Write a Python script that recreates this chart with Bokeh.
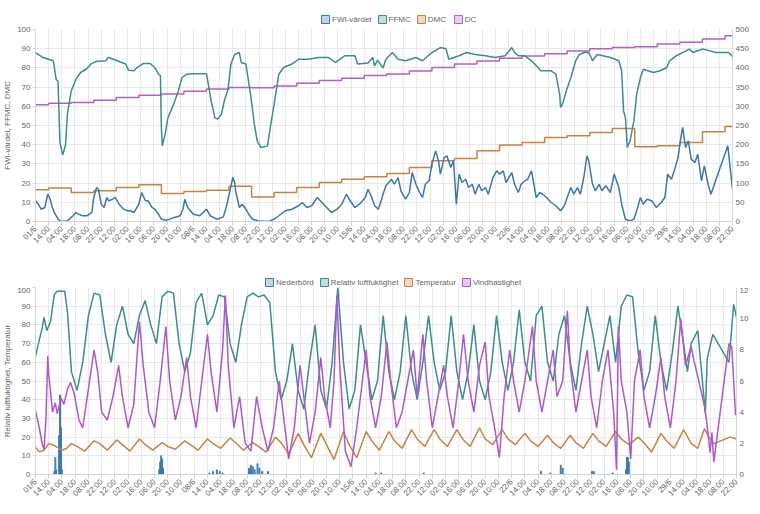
from math import pi
from bokeh.plotting import figure
from bokeh.models import Range1d, LinearAxis, FixedTicker, Legend, LegendItem
from bokeh.layouts import column
from bokeh.embed import file_html
from bokeh.resources import INLINE

# ---------------- data ----------------
tick_labels = ["01/6", "14:00", "04:00", "18:00", "08:00", "22:00", "12:00", "02:00", "16:00", "06:00", "20:00", "10:00",
               "08/6", "14:00", "04:00", "18:00", "08:00", "22:00", "12:00", "02:00", "16:00", "06:00", "20:00", "10:00",
               "15/6", "14:00", "04:00", "18:00", "08:00", "22:00", "12:00", "02:00", "16:00", "06:00", "20:00", "10:00",
               "22/6", "14:00", "04:00", "18:00", "08:00", "22:00", "12:00", "02:00", "16:00", "06:00", "20:00", "10:00",
               "29/6", "14:00", "04:00", "18:00", "08:00", "22:00"]
tick_step_hours = 14
last_hour = 742
left_ticks = [0, 10, 20, 30, 40, 50, 60, 70, 80, 90, 100]
top_right_ticks = [0, 50, 100, 150, 200, 250, 300, 350, 400, 450, 500]
bottom_right_ticks = [0, 2, 4, 6, 8, 10, 12]

top_names = ["FWI-värdet", "FFMC", "DMC", "DC"]
bottom_names = ["Nederbörd", "Relativ luftfuktighet", "Temperatur", "Vindhastighet"]

# daily index updates (hour of each update)
update_hours = [0, 14, 38, 62, 86, 110, 134, 158, 182, 206, 230, 254, 278, 302, 326, 350,
                374, 398, 422, 446, 470, 494, 518, 542, 566, 590, 614, 638, 662, 686, 710, 734]
dmc = [16.5, 17.4, 15.1, 16.0, 17.7, 19.1, 14.6, 15.6, 16.3, 18.4, 12.8, 15.1, 17.7, 20.3, 22.0, 23.3,
       25.0, 28.1, 31.6, 32.8, 36.8, 39.9, 41.1, 43.7, 44.6, 46.4, 48.4, 38.9, 39.4, 41.1, 46.7, 49.5]
dc = [304, 308, 310, 316, 323, 329, 332, 339, 345, 349, 348, 353, 360, 367, 373, 380,
      384, 392, 401, 410, 418, 425, 431, 437, 444, 450, 453, 455, 462, 467, 475, 484]

ffmc_h = [0, 8, 14, 19, 21, 22, 24, 26, 29, 32, 34, 38, 43, 48, 54, 59, 64, 75, 77, 80, 87, 96, 99, 105, 108, 115,
          122, 127, 131, 133, 134, 135, 138, 141, 147, 152, 156, 161, 168, 182, 184, 187, 191, 194, 198, 201, 205,
          208, 212, 217, 219, 224, 229, 233, 236, 240, 247, 250, 254, 259, 264, 273, 280, 291, 301, 312, 319, 329,
          340, 343, 354, 359, 361, 364, 370, 373, 380, 386, 394, 405, 412, 422, 431, 437, 440, 451, 459, 468, 479,
          489, 500, 507, 510, 514, 521, 528, 535, 538, 549, 554, 558, 559, 561, 565, 570, 575, 579, 584, 589, 593,
          598, 612, 621, 624, 626, 628, 630, 633, 637, 640, 644, 647, 652, 658, 665, 672, 675, 682, 689, 696, 700,
          705, 710, 717, 724, 738, 742]
ffmc_v = [88, 85.4, 84.5, 83.7, 77, 74, 73, 41, 34.7, 40, 56, 68, 74, 77.6, 79.3, 82, 83.3, 83.7, 85.4, 85, 83.7, 82,
          78.8, 78.5, 80.2, 82.3, 82.3, 80.2, 76.7, 75.9, 49, 39.4, 45.5, 54, 61, 68, 75, 76.7, 77, 77, 71.5, 62.8, 54,
          53.3, 56, 62.8, 69, 82, 87, 88, 82.8, 82, 66, 50.7, 42, 38.5, 39.4, 49, 61, 76.7, 80.2, 82, 84.5, 84.5, 85.4,
          85.4, 82.8, 86.3, 86.3, 82, 82.5, 85.4, 81, 84, 80, 84.5, 88, 84.5, 83.7, 85.4, 83.7, 88, 90.6, 90, 84.5,
          86.3, 88, 87, 86.3, 85.4, 86.3, 90.6, 88, 86.3, 86.3, 83.7, 80.2, 78.5, 78.5, 76.7, 66.3, 59.4, 61, 68, 75,
          83.7, 87, 88, 88, 83.7, 87, 85.4, 83.7, 78.5, 57.6, 54, 38.5, 42, 52.4, 66.3, 75, 79.3, 78.5, 77.6, 78.5,
          80.2, 83.7, 86.3, 88, 89.8, 88, 88.9, 89.8, 89, 88, 88, 85.8]

fwi_h = [0, 3, 6, 10, 13, 15, 18, 20, 24, 27, 34, 40, 43, 45, 50, 55, 60, 62, 65, 67, 70, 73, 76, 78, 82, 85, 89, 94,
         98, 101, 105, 110, 113, 117, 120, 124, 127, 131, 134, 140, 147, 154, 157, 159, 162, 168, 175, 182, 186, 193,
         200, 203, 207, 210, 212, 213, 217, 220, 224, 227, 231, 238, 248, 254, 259, 266, 273, 280, 284, 289, 294, 300,
         305, 310, 315, 321, 326, 331, 335, 340, 345, 351, 354, 358, 361, 365, 368, 370, 373, 379, 382, 386, 389, 394,
         398, 401, 405, 408, 412, 415, 419, 422, 426, 429, 431, 435, 438, 442, 445, 448, 451, 454, 458, 461, 465, 468,
         472, 475, 479, 482, 487, 491, 494, 498, 501, 507, 510, 514, 517, 521, 524, 528, 530, 533, 537, 540, 544, 549,
         554, 559, 563, 566, 570, 573, 577, 580, 584, 587, 589, 593, 596, 600, 603, 607, 612, 616, 621, 624, 628, 633,
         637, 640, 644, 647, 651, 656, 661, 666, 670, 673, 677, 680, 684, 687, 689, 692, 695, 698, 702, 705, 709, 712,
         716, 719, 737, 742]
fwi_v = [10.8, 9, 6.4, 7.3, 14.2, 12.5, 7.3, 4.7, 1.2, 0, 0.3, 3, 4.7, 4, 3, 3, 4.7, 12.5, 17.7, 16.8, 9, 7.3, 12.5,
         10.8, 11.6, 12.5, 9, 6.4, 5.6, 5.6, 4.7, 9, 15.1, 10.8, 10.8, 7.3, 6.4, 3.8, 1.2, 0.7, 2, 3, 6.4, 11.6, 7.3,
         3.8, 3, 6.4, 3, 1.2, 2.4, 7.3, 16, 23, 20.3, 16, 7.3, 9, 6.4, 3.8, 1.2, 0.3, 0, 1.2, 3, 5.6, 6.4, 8.2, 9.9,
         7.3, 8.2, 12.5, 9.9, 7.3, 4.7, 6.4, 9, 14.2, 10.8, 7.3, 9, 12.5, 16.8, 12.5, 8.2, 6.4, 10.8, 14.2, 18.6, 22,
         19.4, 22.9, 16, 11.6, 15.1, 25.5, 19.4, 16, 12.5, 19.4, 21.2, 29.9, 36.8, 31.6, 24.7, 33.3, 34.2, 28.1, 31.6,
         9, 24.7, 20.3, 22, 17.7, 19.4, 14.2, 19.4, 16, 17.7, 14.2, 22.9, 26.4, 24.7, 26.4, 20.3, 25.5, 19.4, 15.1,
         19.4, 21.2, 22, 26.4, 21, 12.5, 15.1, 14.2, 12.5, 9.9, 8.2, 5.6, 8.2, 12.5, 17.7, 14.2, 17.7, 14.2, 23.8,
         34.2, 31.6, 19.4, 16, 19.4, 16, 18.6, 15.1, 24.7, 17.7, 9, 1.2, 0.3, 1.2, 5.6, 12.5, 9, 11.6, 10.8, 7.3, 9.9,
         12.5, 24.7, 22, 26.4, 33.3, 43.7, 49, 38.5, 42, 32.5, 30.7, 35, 21.2, 29, 19.4, 14.2, 39.4, 16.8]

rh_h = [0, 4, 7, 9, 12, 16, 18, 20, 23, 31, 34, 38, 44, 50, 56, 62, 68, 74, 80, 86, 92, 98, 104, 110, 116, 122, 128,
        134, 140, 146, 152, 158, 164, 170, 176, 182, 188, 194, 200, 206, 212, 218, 224, 230, 236, 242, 248, 254, 260,
        266, 272, 278, 284, 290, 296, 302, 308, 314, 320, 326, 332, 338, 344, 350, 356, 362, 368, 374, 380, 386, 392,
        398, 404, 410, 416, 422, 428, 434, 440, 446, 452, 458, 464, 470, 476, 482, 488, 494, 500, 506, 512, 518, 524,
        530, 536, 542, 548, 554, 560, 566, 572, 578, 584, 590, 596, 602, 608, 614, 620, 626, 632, 638, 644, 650, 656,
        662, 668, 674, 680, 686, 690, 694, 701, 709, 711, 717, 734, 739, 742]
rh_v = [63, 72, 78, 84, 77, 82, 89.5, 96.4, 98, 98, 86, 55, 45, 60, 85, 97, 96, 75, 60, 80, 90, 75, 70, 85, 93, 80, 70,
        95, 98, 97, 70, 55, 65, 92, 97, 80, 85, 96, 95, 70, 60, 80, 95, 97, 95, 96, 92, 55, 40, 50, 70, 45, 35, 60, 80,
        45, 35, 60, 100, 60, 35, 45, 80, 60, 40, 50, 85, 55, 40, 55, 85, 55, 40, 60, 85, 60, 45, 55, 85, 55, 40, 55,
        80, 50, 40, 55, 85, 60, 45, 60, 88, 60, 50, 85, 90, 60, 50, 75, 85, 60, 45, 70, 90, 75, 55, 70, 85, 60, 90, 96,
        95, 65, 45, 55, 85, 60, 45, 65, 90, 70, 55, 70, 77, 33, 62, 75, 60, 91, 84]

temp_h = [0, 4, 9, 14, 20, 28, 33, 38, 44, 52, 62, 68, 76, 86, 92, 100, 110, 116, 124, 134, 140, 148, 158, 164, 172,
          182, 188, 196, 206, 212, 220, 230, 236, 244, 254, 260, 268, 278, 284, 292, 302, 308, 316, 326, 332, 340, 350,
          356, 364, 374, 380, 388, 398, 404, 412, 422, 428, 436, 446, 452, 460, 470, 476, 484, 494, 500, 508, 518, 524,
          532, 542, 548, 556, 566, 572, 580, 590, 596, 604, 614, 620, 628, 638, 644, 652, 662, 668, 676, 686, 694, 701,
          708, 713, 718, 735, 742]
temp_v = [14.7, 12.1, 13, 16.5, 15.5, 13, 14, 16.5, 15, 12.5, 18, 16.5, 13, 18.5, 16, 12.5, 19, 16, 13, 17, 15, 13.5,
          18, 16, 13, 19, 16.5, 14, 19.5, 17, 13, 17, 15, 12, 20, 17, 11, 22, 16, 9, 22, 16, 8, 23, 16, 9, 23, 18, 13,
          23, 18, 14, 24, 19, 15, 24, 19, 15, 24, 19, 15, 25, 19, 16, 24, 19, 16, 22, 18, 15, 21, 17, 14, 21, 17, 14,
          22, 18, 15, 23, 19, 16, 20, 17, 12, 22, 18, 14, 24, 16.6, 14, 24.5, 20, 16.5, 20, 19]

wind_h = [0, 4, 7, 9, 11, 13, 14, 16, 18, 21, 23, 27, 30, 34, 37, 41, 46, 50, 56, 62, 66, 70, 76, 82, 88, 92, 98, 104,
          110, 114, 120, 126, 132, 138, 142, 148, 154, 160, 164, 170, 176, 182, 186, 192, 198, 201, 204, 210, 216, 222,
          228, 234, 240, 246, 252, 258, 262, 268, 274, 280, 284, 290, 296, 302, 306, 312, 316, 319, 322, 328, 334, 340,
          346, 350, 354, 360, 366, 372, 376, 382, 388, 394, 400, 404, 410, 414, 420, 426, 432, 436, 442, 448, 453, 458,
          464, 470, 476, 480, 486, 491, 496, 502, 506, 512, 518, 526, 530, 536, 542, 548, 552, 558, 563, 566, 572, 578,
          584, 588, 594, 600, 606, 612, 615, 617, 620, 626, 630, 634, 640, 644, 650, 656, 662, 666, 672, 678, 683, 688,
          694, 697, 701, 704, 708, 710, 713, 714, 716, 718, 734, 737, 741]
wind_v = [4.1, 3, 2, 1.6, 3.5, 7.6, 6.4, 5.3, 4, 4.6, 3.9, 4.9, 4.5, 5.5, 5.9, 5.2, 3.5, 3, 5.5, 8, 6.5, 4, 3.5, 5, 7, 5,
          3, 4.5, 9.8, 7, 4, 3, 6, 9.5, 6, 3.5, 5, 7.5, 5, 3, 6, 9, 6.5, 4, 8, 11.5, 7, 3, 5, 2, 1.5, 5, 3, 1.5, 3, 6,
          4, 1, 3, 7, 5, 2, 4, 7.5, 5, 3, 6, 11.5, 7, 1.5, 0.5, 3, 6, 8, 5, 3, 5, 8.5, 6, 3, 4, 6, 8, 5, 9, 6, 3, 5, 7,
          5, 3, 6, 9, 6, 4, 7, 8.5, 5, 3, 1.1, 5, 8, 6, 4, 6, 9.5, 6, 4, 6, 8, 5, 6, 10.5, 7, 4, 6, 8, 5, 3, 6, 8, 4,
          0.3, 9.5, 6, 4, 1, 6, 8, 5, 3, 5, 7.5, 5, 3, 6, 10, 7, 8.2, 7.3, 6.3, 5.5, 4.4, 3.6, 2, 1.4, 2.7, 0.8, 8.4,
          8.2, 3.8]

rain_h = [20, 21, 22, 25, 26, 27, 28, 131, 132, 133, 134, 135, 184, 188, 192, 195, 198, 226, 228, 230, 232, 235, 237,
          240, 246, 360, 366, 411, 535, 545, 556, 558, 589, 591, 611, 625, 626, 627, 628]
rain_v = [0.2, 1.1, 0.3, 2.5, 5.1, 3.0, 0.3, 0.3, 0.8, 1.2, 1.0, 0.4, 0.1, 0.2, 0.3, 0.2, 0.1, 0.4, 0.6, 0.5, 0.3, 0.7,
          0.4, 0.2, 0.2, 0.1, 0.1, 0.1, 0.2, 0.1, 0.6, 0.4, 0.2, 0.2, 0.1, 0.3, 1.1, 1.1, 0.8]

# ---------------- style ----------------
FONT = "Liberation Sans"
TXT = "#666666"
GRID = "#e8e8e8"
C_BLUE = "#3b78ad"
C_TEAL = "#3a8e8c"
C_ORANGE = "#c8843f"
C_PURPLE = "#b25fc6"
C_VIOLET = "#ad57d0"
NAN = float("nan")

tick_hours = [i * tick_step_hours for i in range(len(tick_labels))]


def style_axis(ax, ticks):
    ax.ticker = FixedTicker(ticks=ticks)
    ax.major_label_text_font = FONT
    ax.major_label_text_font_size = "8px"
    ax.major_label_text_color = TXT
    ax.axis_line_color = "#d4d4d4"
    ax.major_tick_line_color = "#d4d4d4"
    ax.major_tick_out = 3
    ax.major_tick_in = 0
    ax.minor_tick_line_color = None
    ax.major_label_standoff = 2
    ax.axis_label_text_font = FONT
    ax.axis_label_text_font_size = "8px"
    ax.axis_label_text_color = TXT
    ax.axis_label_text_font_style = "normal"
    ax.axis_label_standoff = 2


def legend_fig(height, names, colors, loc):
    lf = figure(width=744, height=height, x_range=Range1d(0, 1), y_range=Range1d(0, 1),
                output_backend="svg", toolbar_location=None, x_axis_location=None, y_axis_location=None,
                min_border=0)
    lf.grid.visible = False
    lf.outline_line_color = None
    items = []
    for name, col in zip(names, colors):
        r = lf.quad(left=[NAN], right=[NAN], top=[NAN], bottom=[NAN], fill_color=col, fill_alpha=0.3,
                    line_color=col, line_width=1)
        items.append(LegendItem(label=name, renderers=[r]))
    leg = Legend(items=items, orientation="horizontal", location=loc,
                 label_text_font=FONT, label_text_font_size="8px", label_text_color=TXT,
                 glyph_width=10, glyph_height=10, label_standoff=2, spacing=5, padding=0,
                 margin=0, label_height=10, border_line_color=None, background_fill_alpha=0)
    lf.add_layout(leg)
    return lf


def make_fig(fw, fh, bl, br, bt, bb, right_max, right_ticks, ylabel):
    p = figure(frame_width=fw, frame_height=fh, x_range=Range1d(0, last_hour), y_range=Range1d(0, 100),
               output_backend="svg", toolbar_location=None,
               min_border_left=bl, min_border_right=br, min_border_top=bt, min_border_bottom=bb)
    p.outline_line_color = None
    p.extra_y_ranges = {"r": Range1d(0, right_max)}
    ra = LinearAxis(y_range_name="r")
    p.add_layout(ra, "right")
    style_axis(p.left[0], left_ticks)
    p.left[0].axis_label = ylabel
    style_axis(ra, right_ticks)
    ra.major_tick_out = 0
    ra.major_label_standoff = 3
    xa = p.below[0]
    style_axis(xa, tick_hours)
    xa.major_label_overrides = {h: lab for h, lab in zip(tick_hours, tick_labels)}
    xa.major_label_orientation = pi / 4
    xa.major_tick_out = 4
    p.xgrid.grid_line_color = GRID
    p.ygrid.grid_line_color = GRID
    return p


# ---------------- top chart ----------------
l1 = legend_fig(24, top_names, [C_BLUE, C_TEAL, C_ORANGE, C_PURPLE], (285, 0))
p1 = make_fig(697, 192, 31, 16, 5, 27, 500, top_right_ticks, "FWI-värdet, FFMC, DMC")
p1.step(x=update_hours + [last_hour], y=dc + [dc[-1]], mode="after",
        y_range_name="r", line_color=C_PURPLE, line_width=1.5)
p1.step(x=update_hours + [last_hour], y=dmc + [dmc[-1]], mode="after", line_color=C_ORANGE, line_width=1.5)
p1.line(ffmc_h, ffmc_v, line_color=C_TEAL, line_width=1.5)
p1.line(fwi_h, fwi_v, line_color=C_BLUE, line_width=1.5)

# ---------------- bottom chart ----------------
l2 = legend_fig(36, bottom_names, [C_BLUE, C_TEAL, C_ORANGE, C_VIOLET], (229, 0))
p2 = make_fig(701, 187, 31, 12, 0, 27, 12, bottom_right_ticks, "Relativ luftfuktighet, Temperatur")
p2.vbar(x=rain_h, top=rain_v, width=1, y_range_name="r", fill_color=C_BLUE, fill_alpha=0.5,
        line_color=C_BLUE, line_width=1)
p2.line(rh_h, rh_v, line_color=C_TEAL, line_width=1.5)
p2.line(temp_h, temp_v, line_color=C_ORANGE, line_width=1.5)
p2.line(wind_h, wind_v, y_range_name="r", line_color=C_VIOLET, line_width=1.5)

layout = column(l1, p1, l2, p2, spacing=0)
open("out.html", "w").write(file_html(layout, INLINE))
